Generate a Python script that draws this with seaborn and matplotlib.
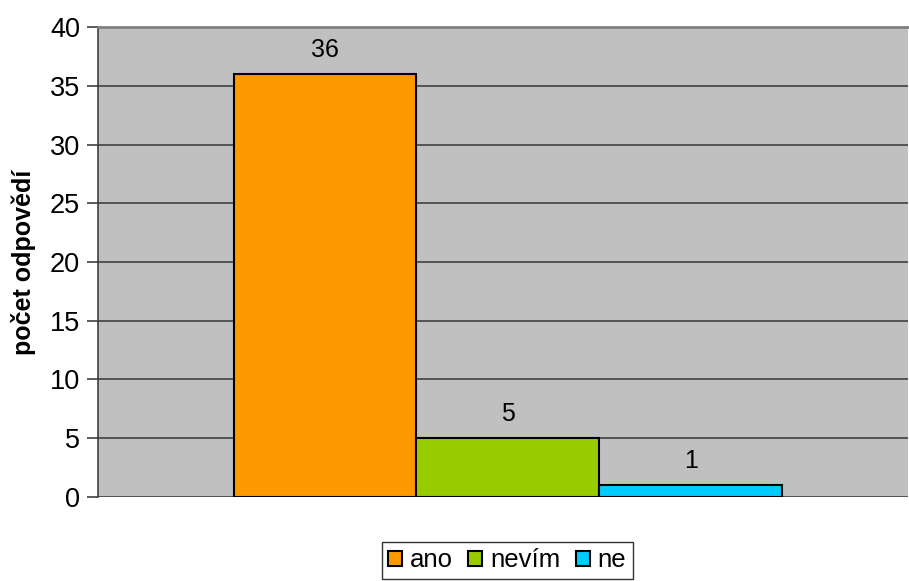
import matplotlib
matplotlib.use("Agg")
import matplotlib.pyplot as plt
import seaborn as sns
import pandas as pd

# Survey answers and their counts
answers = ["ano", "nevím", "ne"]
counts = [36, 5, 1]
colors = ["#FF9900", "#99CC00", "#00CCFF"]
y_ticks = [0, 5, 10, 15, 20, 25, 30, 35, 40]

sns.set_theme(style="white")
plt.rcParams["font.family"] = ["Liberation Sans", "DejaVu Sans"]
plt.rcParams["text.color"] = "black"
plt.rcParams["axes.labelcolor"] = "black"
plt.rcParams["ytick.color"] = "black"

df = pd.DataFrame({"group": [""] * len(answers), "answer": answers, "count": counts})

fig = plt.figure(figsize=(9.09, 5.81), dpi=100)
ax = fig.add_axes([0.1078, 0.1446, 0.8912, 0.8089])
ax.set_facecolor("#C0C0C0")

sns.barplot(data=df, x="group", y="count", hue="answer", hue_order=answers,
            palette=colors, width=0.677, edgecolor="black", linewidth=1.5,
            saturation=1, ax=ax, legend=True)

ax.set_xlim(-0.506, 0.494)
ax.set_ylim(0, 40)
ax.set_yticks(y_ticks)
ax.set_yticklabels([str(t) for t in y_ticks], fontsize=19.5, color="black")
ax.set_xticks([])
ax.set_xlabel("")
ax.set_ylabel("počet odpovědí", fontsize=18, fontweight="bold", labelpad=10)

ax.grid(axis="y", color="#404040", linewidth=1.2)
ax.set_axisbelow(True)
ax.tick_params(axis="y", length=8, width=1.2, color="#404040", pad=5, left=True)

for side in ["right", "bottom"]:
    ax.spines[side].set_visible(False)
ax.spines["left"].set_color("#404040")
ax.spines["left"].set_linewidth(1.2)
ax.spines["top"].set_color("#808080")
ax.spines["top"].set_linewidth(2)

for container, val in zip(ax.containers, counts):
    bar = container.patches[0]
    ax.annotate(str(val), (bar.get_x() + bar.get_width() / 2, val),
                xytext=(0, 9), textcoords="offset points",
                ha="center", va="bottom", fontsize=18, color="black")

handles, labels = ax.get_legend_handles_labels()
ax.legend(handles, labels, loc="center", bbox_to_anchor=(0.505, -0.135),
          ncol=3, frameon=True, fancybox=False, edgecolor="black",
          fontsize=18.5, handlelength=0.55, handleheight=0.55, handletextpad=0.3,
          columnspacing=0.6, borderpad=0.25, borderaxespad=0)
ax.get_legend().get_frame().set_linewidth(1.0)

fig.savefig("out.png", dpi=100, facecolor="white")
